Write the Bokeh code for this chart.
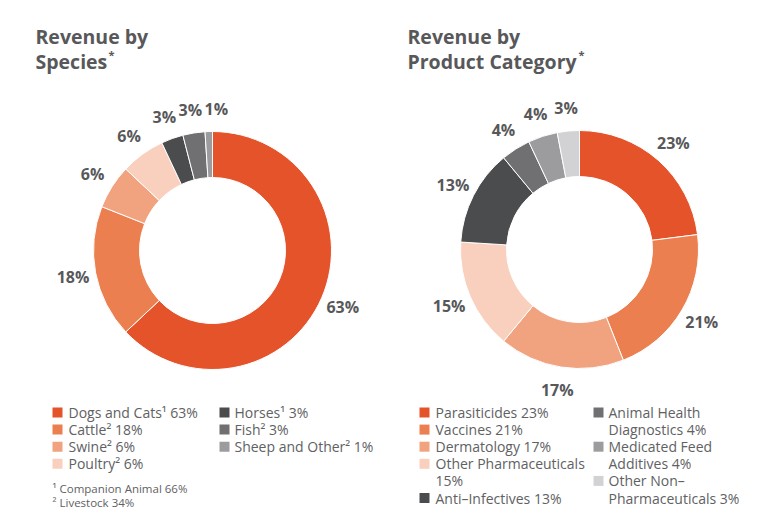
import numpy as np
from bokeh.plotting import figure
from bokeh.models import Range1d, ColumnDataSource
from bokeh.core.properties import value
from bokeh.embed import file_html
from bokeh.resources import INLINE

# ---------------- data ----------------
species = ["Dogs and Cats", "Cattle", "Swine", "Poultry", "Horses", "Fish", "Sheep and Other"]
species_share = [63, 18, 6, 6, 3, 3, 1]
species_legend = ["Dogs and Cats\u00b9 63%", "Cattle\u00b2 18%", "Swine\u00b2 6%", "Poultry\u00b2 6%",
                  "Horses\u00b9 3%", "Fish\u00b2 3%", "Sheep and Other\u00b2 1%"]
species_colors = ["#E4532A", "#EC7F4F", "#F1A27F", "#F8D0BD", "#4B4C4E", "#707073", "#9C9C9F"]
species_notes = ["\u00b9 Companion Animal 66%", "\u00b2 Livestock 34%"]

products = ["Parasiticides", "Vaccines", "Dermatology", "Other Pharmaceuticals", "Anti-Infectives",
            "Animal Health Diagnostics", "Medicated Feed Additives", "Other Non-Pharmaceuticals"]
product_share = [23, 21, 17, 15, 13, 4, 4, 3]
product_legend = ["Parasiticides 23%", "Vaccines 21%", "Dermatology 17%", "Other Pharmaceuticals\n15%",
                  "Anti\u2013Infectives 13%", "Animal Health\nDiagnostics 4%", "Medicated Feed\nAdditives 4%",
                  "Other Non\u2013\nPharmaceuticals 3%"]
product_colors = ["#E4532A", "#EC7F4F", "#F1A27F", "#F8D0BD", "#4B4C4E", "#707073", "#9C9C9F", "#D2D2D4"]

titles = [["Revenue by", "Species"], ["Revenue by", "Product Category"]]

# ---------------- layout ----------------
W, H = 741, 511
TITLE_C = "#58585A"
LABEL_C = "#58585A"
LEG_C = "#606163"
TFONT = value("Open Sans")


def fy(v):
    # convert a top-down page coordinate into the plot's bottom-up data coordinate
    return H - v


p = figure(width=W, height=H, output_backend="svg", toolbar_location=None,
           x_range=Range1d(0, W), y_range=Range1d(0, H), min_border=0)
p.axis.visible = False
p.grid.visible = False
p.outline_line_color = None
p.background_fill_color = "white"


def spread(xs, ys, gap=26, band=16):
    # push labels apart horizontally where they would overlap
    xs = list(xs)
    order = np.argsort(xs)
    for a in range(1, len(order)):
        i, j = order[a], order[a - 1]
        if abs(ys[i] - ys[j]) < band and xs[i] - xs[j] < gap:
            xs[i] = xs[j] + gap
    return xs


def donut(cx, cy, shares, colors, names, r=142):
    shares = np.array(shares, dtype=float)
    frac = shares / shares.sum()
    cum = np.concatenate([[0], np.cumsum(frac)])
    start = np.pi / 2 - 2 * np.pi * cum[:-1]
    end = np.pi / 2 - 2 * np.pi * cum[1:]
    mid = (start + end) / 2
    src = ColumnDataSource(dict(start=start, end=end, color=colors, name=names))
    p.annular_wedge(x=cx, y=fy(cy), inner_radius=73, outer_radius=119,
                    start_angle="start", end_angle="end", direction="clock",
                    fill_color="color", line_color="white", line_width=1, source=src)
    lx = cx + r * np.cos(mid)
    ly = fy(cy) + r * np.sin(mid)
    lx = spread(lx, ly)
    lab = ColumnDataSource(dict(x=lx, y=ly, t=[f"{int(s)}%" for s in shares]))
    p.text(x="x", y="y", text="t", source=lab, text_align="center", text_baseline="middle",
           text_font=TFONT, text_font_style="bold", text_font_size="16px", text_color=LABEL_C)


def title(x, lines, star_x):
    for i, ln in enumerate(lines):
        p.text(x=[x], y=[fy(36 + 25 * i)], text=[ln], text_align="left", text_baseline="alphabetic",
               text_font=TFONT, text_font_style="bold", text_font_size="19.5px", text_color=TITLE_C)
    p.text(x=[star_x], y=[fy(54)], text=["*"], text_align="left", text_baseline="alphabetic",
           text_font=TFONT, text_font_style="bold", text_font_size="11px", text_color=TITLE_C)


def legend(cols, labels, colors, y0=412, dy=17.1):
    # cols: list of (square_x, text_x, item_indices)
    for sq_x, tx_x, idxs in cols:
        row = 0
        for i in idxs:
            lines = labels[i].split("\n")
            yc = y0 + dy * row
            p.rect(x=[sq_x + 5], y=[fy(yc)], width=10, height=10, fill_color=colors[i], line_color=None)
            for k, ln in enumerate(lines):
                p.text(x=[tx_x], y=[fy(yc + dy * k)], text=[ln], text_align="left", text_baseline="middle",
                       text_font=TFONT, text_font_size="14px", text_color=LEG_C)
            row += len(lines)


# left: species
title(35, titles[0], 108)
donut(212, 250, species_share, species_colors, species)
legend([(52, 68, [0, 1, 2, 3]), (219, 234, [4, 5, 6])], species_legend, species_colors)
for k, note in enumerate(species_notes):
    p.text(x=[52], y=[fy(488 + 14 * k)], text=[note], text_align="left", text_baseline="middle",
           text_font=TFONT, text_font_size="11.5px", text_color=LEG_C)

# right: product category
title(407, titles[1], 578)
donut(579, 249, product_share, product_colors, products)
legend([(419, 435, [0, 1, 2, 3, 4]), (593, 608, [5, 6, 7])], product_legend, product_colors)

open("out.html", "w").write(file_html(p, INLINE))
